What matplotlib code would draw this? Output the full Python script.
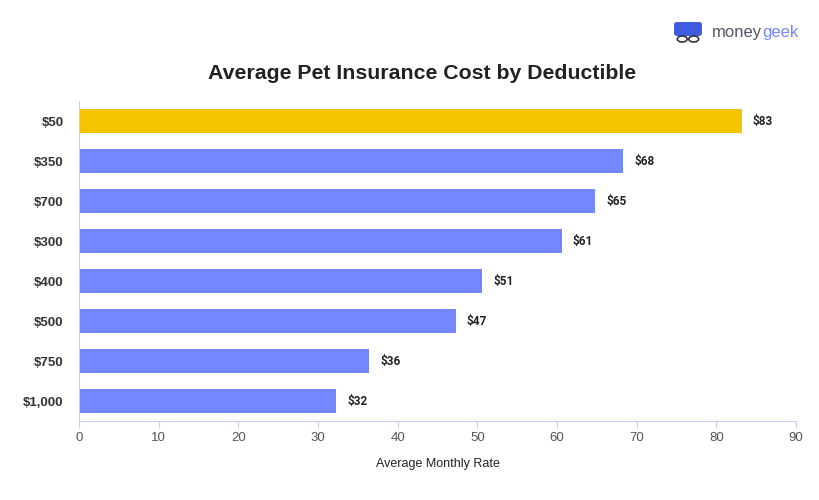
import matplotlib.pyplot as plt
from matplotlib.patches import FancyBboxPatch, Circle

plt.rcParams['font.family'] = ['Liberation Sans', 'DejaVu Sans']

# data
deductibles = ['$50', '$350', '$700', '$300', '$400', '$500', '$750', '$1,000']
rates = [83.2, 68.3, 64.8, 60.6, 50.6, 47.3, 36.4, 32.3]
rate_labels = ['$83', '$68', '$65', '$61', '$51', '$47', '$36', '$32']
ticks = [0, 10, 20, 30, 40, 50, 60, 70, 80, 90]

gold = '#F5C400'
blue = '#7387FF'
axis_col = '#C8D1F5'

fig = plt.figure(figsize=(8.2, 5.0), dpi=100)
ax = fig.add_axes([0.0963, 0.158, 0.8744, 0.640])

ypos = list(range(len(deductibles)))
colors = [gold] + [blue] * (len(deductibles) - 1)
ax.barh(ypos, rates, height=0.6, color=colors, zorder=2)
ax.set_ylim(len(deductibles) - 0.5, -0.5)
ax.set_xlim(0, 90)

for y, v, lab in zip(ypos, rates, rate_labels):
    ax.text(v + 1.4, y, lab, va='center', ha='left', fontsize=8.5,
            fontweight='bold', color='#222222', family=['Roboto', 'DejaVu Sans'])

ax.set_yticks(ypos)
ax.set_yticklabels(deductibles, fontsize=9.5, fontweight='bold', color='#333333')
ax.set_xticks(ticks)
ax.set_xticklabels([str(t) for t in ticks], fontsize=9.5, color='#555555')
ax.tick_params(axis='y', length=0, pad=11)
ax.tick_params(axis='x', length=5, color=axis_col, pad=3)

for s in ['top', 'right']:
    ax.spines[s].set_visible(False)
ax.spines['left'].set_color(axis_col)
ax.spines['bottom'].set_color(axis_col)

ax.set_xlabel('Average Monthly Rate', fontsize=9, color='#222222', labelpad=10)

fig.text(0.515, 0.853, 'Average Pet Insurance Cost by Deductible', ha='center',
         va='center', fontsize=15.3, fontweight='bold', color='#222222')

# logo
t1 = fig.text(0.868, 0.935, 'money', ha='left', va='center', fontsize=12, color='#555566')
fig.canvas.draw()
bb = t1.get_window_extent().transformed(fig.transFigure.inverted())
fig.text(bb.x1, 0.935, 'geek', ha='left', va='center', fontsize=12, color='#7387FF')
icon = FancyBboxPatch((0.826, 0.932), 0.026, 0.02, boxstyle='round,pad=0.004',
                      transform=fig.transFigure, facecolor='#3F5BE0', edgecolor='none')
fig.patches.append(icon)
for cx in (0.832, 0.846):
    fig.patches.append(Circle((cx, 0.922), 0.006, transform=fig.transFigure,
                              facecolor='white', edgecolor='#333344', lw=1.2))

fig.savefig('out.png', dpi=100)
